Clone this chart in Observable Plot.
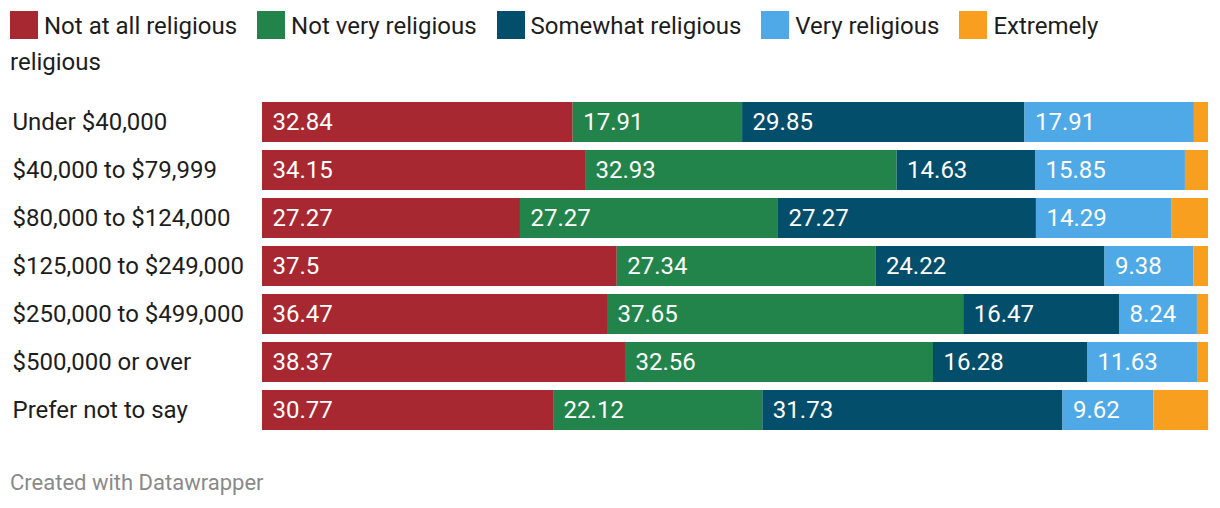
<!DOCTYPE html>
<html>
<head>
<meta charset="utf-8">
<script src="https://cdn.jsdelivr.net/npm/d3@7"></script>
<script src="https://cdn.jsdelivr.net/npm/@observablehq/plot@0.6"></script>
<style>
  html, body { margin: 0; padding: 0; background: #fff; }
  body { font-family: Roboto, "Noto Sans", sans-serif; width: 1220px; }
  #legend { box-sizing: border-box; width: 1170px; height: 90px; padding: 8px 0 0 10px; font-size: 24px; line-height: 36px; color: #1d1d1d; }
  #legend .sw { display: inline-block; width: 28px; height: 28px; vertical-align: -5px; margin-right: 6px; }
  #legend .last { margin-right: 20px; }
  #footer { padding: 30px 0 0 10px; font-size: 22px; line-height: 26px; color: #8a8a8a; }
</style>
</head>
<body>
<div id="legend"></div>
<div id="chart"></div>
<div id="footer">Created with Datawrapper</div>
<script>
const incomes = ["Under $40,000", "$40,000 to $79,999", "$80,000 to $124,000", "$125,000 to $249,000", "$250,000 to $499,000", "$500,000 or over", "Prefer not to say"];
const series = ["Not at all religious", "Not very religious", "Somewhat religious", "Very religious", "Extremely religious"];
const colors = ["#a82832", "#22844a", "#034e6b", "#4ea9e6", "#f89f1f"];
const notAtAll  = [32.84, 34.15, 27.27, 37.5, 36.47, 38.37, 30.77];
const notVery   = [17.91, 32.93, 27.27, 27.34, 37.65, 32.56, 22.12];
const somewhat  = [29.85, 14.63, 27.27, 24.22, 16.47, 16.28, 31.73];
const very      = [17.91, 15.85, 14.29, 9.38, 8.24, 11.63, 9.62];
const extremely = [1.49, 2.44, 3.9, 1.56, 1.18, 1.16, 5.77];

const seriesValues = [notAtAll, notVery, somewhat, very, extremely];
const data = [];
incomes.forEach((inc, i) => {
  series.forEach((s, j) => {
    data.push({income: inc, series: s, value: seriesValues[j][i], showLabel: j < 4});
  });
});

// Legend (HTML, wraps like the original; each word its own span)
const legend = document.getElementById("legend");
legend.innerHTML = series.map((s, j) => {
  const words = s.split(" ");
  return `<span class="sw" style="background:${colors[j]}"></span>` +
    words.map((w, k) => `<span${k === words.length - 1 ? ' class="last"' : ''}>${w}</span>`).join(" ");
}).join("");

const chart = Plot.plot({
  width: 1220,
  height: 350,
  marginLeft: 262,
  marginRight: 12,
  marginTop: 12,
  marginBottom: 10,
  style: {fontFamily: "Roboto, 'Noto Sans', sans-serif", fontSize: "24px", background: "white"},
  x: {domain: [0, 100], axis: null},
  y: {domain: incomes, axis: null, paddingInner: 8/48, paddingOuter: 0},
  color: {domain: series, range: colors},
  marks: [
    Plot.barX(data, Plot.stackX({x: "value", y: "income", fill: "series", order: series})),
    Plot.textX(data.filter(d => d.showLabel), Plot.stackX1({
      x: "value", y: "income", z: "series", order: series,
      text: d => String(d.value), textAnchor: "start", dx: 10, fill: "white", fontSize: 24
    })),
    Plot.text(incomes, {y: d => d, text: d => d, frameAnchor: "left", textAnchor: "start", dx: -250, fill: "#1d1d1d", fontSize: 24})
  ]
});
document.getElementById("chart").appendChild(chart);
</script>
</body>
</html>
